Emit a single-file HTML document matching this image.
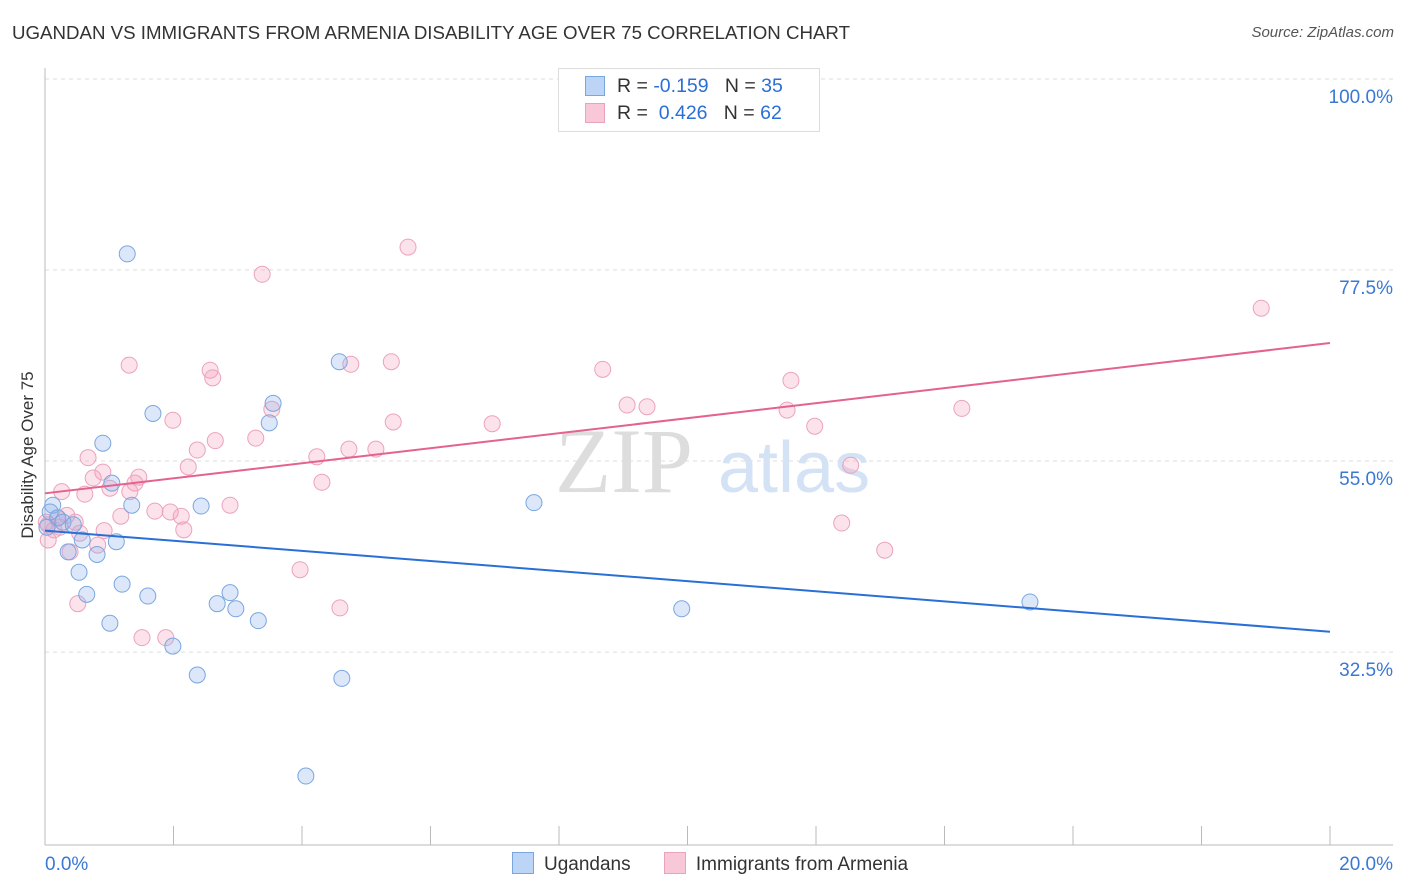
<!DOCTYPE html>
<html><head><meta charset="utf-8">
<style>
body{margin:0;background:#fff;font-family:"Liberation Sans",sans-serif;}
#wrap{position:relative;width:1406px;height:892px;overflow:hidden;}
.t{position:absolute;white-space:nowrap;}
</style></head>
<body>
<div id="wrap">
<div class="t" style="left:12px;top:22px;font-size:18.7px;color:#333;">UGANDAN VS IMMIGRANTS FROM ARMENIA DISABILITY AGE OVER 75 CORRELATION CHART</div>
<div class="t" style="right:12px;top:24px;font-size:15px;color:#555;font-style:italic;">Source: ZipAtlas.com</div>
<svg id="svg" width="1406" height="892" style="position:absolute;left:0;top:0"></svg>
</div>
<script>
const xTicks=[0,20];
const yTicks=[32.5,55,77.5,100];
const blueX=[1.28,1.68,0.90,3.55,3.49,1.04,1.35,2.43,4.58,7.61,0.12,0.03,0.20,0.28,0.44,0.36,0.58,0.81,1.11,0.53,0.65,1.20,1.01,1.60,2.68,2.88,2.97,3.32,1.99,2.37,4.62,4.06,9.91,15.33,0.08];
const blueY=[79.4,60.6,57.1,61.8,59.5,52.4,49.8,49.7,66.7,50.1,49.8,47.2,48.3,47.8,47.5,44.3,45.7,44.0,45.5,41.9,39.3,40.5,35.9,39.1,38.2,39.5,37.6,36.2,33.2,29.8,29.4,17.9,37.6,38.4,49.0];
const pinkX=[5.65,3.38,18.93,1.31,2.57,2.61,4.76,5.39,8.68,11.61,3.53,1.99,5.42,9.06,9.37,11.55,14.27,6.96,11.98,2.65,3.28,2.37,4.23,4.73,5.15,2.23,12.54,0.67,0.90,0.75,1.46,1.40,1.01,0.62,0.26,1.32,4.31,2.88,1.71,1.95,2.12,1.18,2.16,0.92,0.34,0.47,0.19,0.02,0.14,0.05,0.54,0.82,0.39,3.97,0.51,4.59,1.51,1.88,12.40,13.07,0.05,0.23];
const pinkY=[80.2,77.0,73.0,66.3,65.7,64.8,66.4,66.7,65.8,64.5,61.1,59.8,59.6,61.6,61.4,61.0,61.2,59.4,59.1,57.4,57.7,56.3,55.5,56.4,56.4,54.3,54.5,55.4,53.7,53.0,53.1,52.4,51.8,51.1,51.4,51.4,52.5,49.8,49.1,49.0,48.5,48.5,46.9,46.8,48.6,47.8,48.3,47.8,46.9,45.7,46.5,45.1,44.3,42.2,38.2,37.7,34.2,34.2,47.7,44.5,47.5,47.2];
const blueTrend=[46.8,34.9];
const pinkTrend=[51.2,68.9];

const NS="http://www.w3.org/2000/svg";
const svg=document.getElementById('svg');
const X=v=>45+v/20*1285;
const Y=v=>79+(100-v)*8.49;
function el(tag,a){const e=document.createElementNS(NS,tag);for(const k in a)e.setAttribute(k,a[k]);svg.appendChild(e);return e;}
yTicks.forEach(v=>{
 const g=el('line',{x1:45,x2:1393,y1:Y(v),y2:Y(v),stroke:'#ddd','stroke-dasharray':'4,4'});
 
 
 const t=el('text',{x:1393,y:Y(v)+24,'text-anchor':'end','font-size':19,fill:'#3a78d4','font-family':'Liberation Sans'});
 t.textContent=v.toFixed(1)+'%';
 
 
});
let a=el('line',{x1:45,x2:45,y1:68,y2:845,stroke:'#bbb'});


a=el('line',{x1:45,x2:1393,y1:845,y2:845,stroke:'#bbb'});


for(let i=0;i<=10;i++){
 const tk=el('line',{x1:X(i*2),x2:X(i*2),y1:826,y2:845,stroke:'#bbb'});
 
 
}
xTicks.forEach((v,i)=>{
 const t=el('text',{x:i==0?45:1393,y:870,'text-anchor':i==0?'start':'end','font-size':19,fill:'#3a78d4','font-family':'Liberation Sans'});
 t.textContent=v.toFixed(1)+'%';
 
 
});
let yt=el('text',{x:0,y:0,transform:'translate(33,455) rotate(-90)','text-anchor':'middle','font-size':17,fill:'#333','font-family':'Liberation Sans'});
yt.textContent='Disability Age Over 75';


let w=el('text',{x:555,y:492,'font-size':92,fill:'#ddd','font-family':'Liberation Serif'});
w.textContent='ZIP';


w=el('text',{x:718,y:492,'font-size':72,fill:'#d4e2f5','font-family':'Liberation Sans'});
w.textContent='atlas';


function pts(xs,ys,fill,stroke,name){
 xs.forEach((x,i)=>{
  const c=el('circle',{cx:X(x),cy:Y(ys[i]),r:8,fill:fill,stroke:stroke,'stroke-width':1});
  
  
 });
}
pts(pinkX,pinkY,'rgba(244,160,190,0.3)','#eba3bd','armenia-point');
pts(blueX,blueY,'rgba(140,180,235,0.3)','#7aa6e0','ugandan-point');
let l=el('line',{x1:X(0),x2:X(20),y1:Y(blueTrend[0]),y2:Y(blueTrend[1]),stroke:'#2a6fd6','stroke-width':2});


l=el('line',{x1:X(0),x2:X(20),y1:Y(pinkTrend[0]),y2:Y(pinkTrend[1]),stroke:'#e4628f','stroke-width':2});


</script>
<div class="t" style="left:558px;top:68px;width:260px;height:62px;border:1px solid #ddd;background:#fff;font-size:19.5px;color:#333;">
 <div style="position:absolute;left:26px;top:7px;width:18px;height:18px;background:#bcd4f5;border:1px solid #7aa6e0"></div>
 <div style="position:absolute;left:58px;top:6px">R = <span style="color:#2a6fd6">-0.159</span>&nbsp;&nbsp;&nbsp;N = <span style="color:#2a6fd6">35</span></div>
 <div style="position:absolute;left:26px;top:34px;width:18px;height:18px;background:#f8c8d8;border:1px solid #eba3bd"></div>
 <div style="position:absolute;left:58px;top:33px">R = &nbsp;<span style="color:#2a6fd6">0.426</span>&nbsp;&nbsp;&nbsp;N = <span style="color:#2a6fd6">62</span></div>
</div>
<div class="t" style="left:512px;top:852px;font-size:19px;color:#333;">
 <span><span style="display:inline-block;width:20px;height:20px;background:#bcd4f5;border:1px solid #7aa6e0;vertical-align:-4px;margin-right:10px"></span>Ugandans</span>
 <span style="margin-left:28px"><span style="display:inline-block;width:20px;height:20px;background:#f8c8d8;border:1px solid #eba3bd;vertical-align:-4px;margin-right:10px"></span>Immigrants from Armenia</span>
</div>
</body></html>
